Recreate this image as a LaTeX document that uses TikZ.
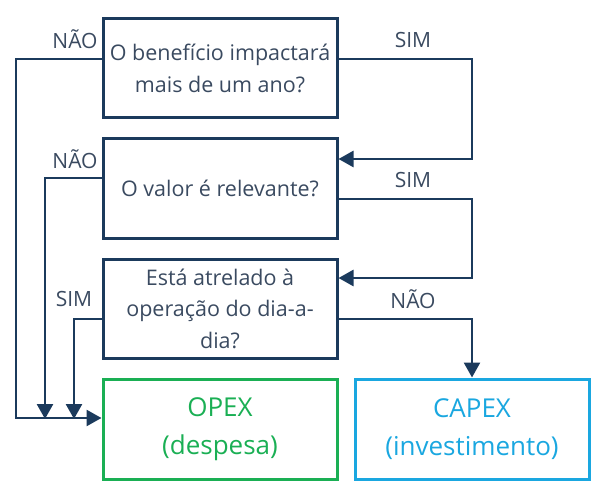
\documentclass[tikz,border=0pt]{standalone}
\usepackage{fontspec}
\setmainfont{Open Sans}
\usetikzlibrary{arrows.meta}
\definecolor{navy}{HTML}{1B3A5C}
\definecolor{txt}{HTML}{3A4A60}
\definecolor{opgreen}{HTML}{1AAF54}
\definecolor{capblue}{HTML}{1AA7E0}
\begin{document}
\begin{tikzpicture}[x=1pt,y=-1pt,
  qbox/.style={draw=navy,line width=3pt,minimum width=234pt,minimum height=99pt,inner sep=0pt,align=center,text=txt,font=\fontsize{21.5}{31.5}\selectfont},
  rbox/.style={line width=3pt,minimum width=234pt,minimum height=100pt,inner sep=0pt,align=center,font=\fontsize{26}{38}\selectfont},
  conn/.style={draw=navy,line width=2.6pt},
  arr/.style={conn,-{Triangle[length=15pt,width=16pt]}},
  lbl/.style={text=txt,font=\fontsize{21}{22}\selectfont,inner sep=0pt}]
\useasboundingbox (0,0) rectangle (598,487);
\node[qbox] (b1) at (220,68.5) {O benefício impactará\\mais de um ano?};
\node[qbox] (b2) at (220,188.5) {O valor é relevante?};
\node[qbox] (b3) at (220,308.5) {Está atrelado à\\operação do dia-a-\\dia?};
\node[rbox,draw=opgreen,text=opgreen] (op) at (220,429) {OPEX\\(despesa)};
\node[rbox,draw=capblue,text=capblue] (cap) at (472,429) {CAPEX\\(investimento)};
% left side
\draw[arr] (b1.west|-0,59) -- (16,59) -- (16,418) -- (op.west|-0,418);
\draw[arr] (b2.west|-0,178) -- (45,178) -- (45,419);
\draw[arr] (b3.west|-0,319) -- (74,319) -- (74,419);
% right side
\draw[arr] (b1.east|-0,59) -- (472,59) -- (472,159) -- (b2.east|-0,159);
\draw[arr] (b2.east|-0,199) -- (472,199) -- (472,278) -- (b3.east|-0,278);
\draw[arr] (b3.east|-0,319) -- (472,319) -- (cap.north);
% labels
\node[lbl] (l1) at (75,39) {NÃO};
\node[lbl] (l2) at (75,159) {NÃO};
\node[lbl] (l3) at (74,299) {SIM};
\node[lbl] (l4) at (413,40) {SIM};
\node[lbl] (l5) at (413,180) {SIM};
\node[lbl] (l6) at (413,299) {NÃO};
\end{tikzpicture}
\end{document}
